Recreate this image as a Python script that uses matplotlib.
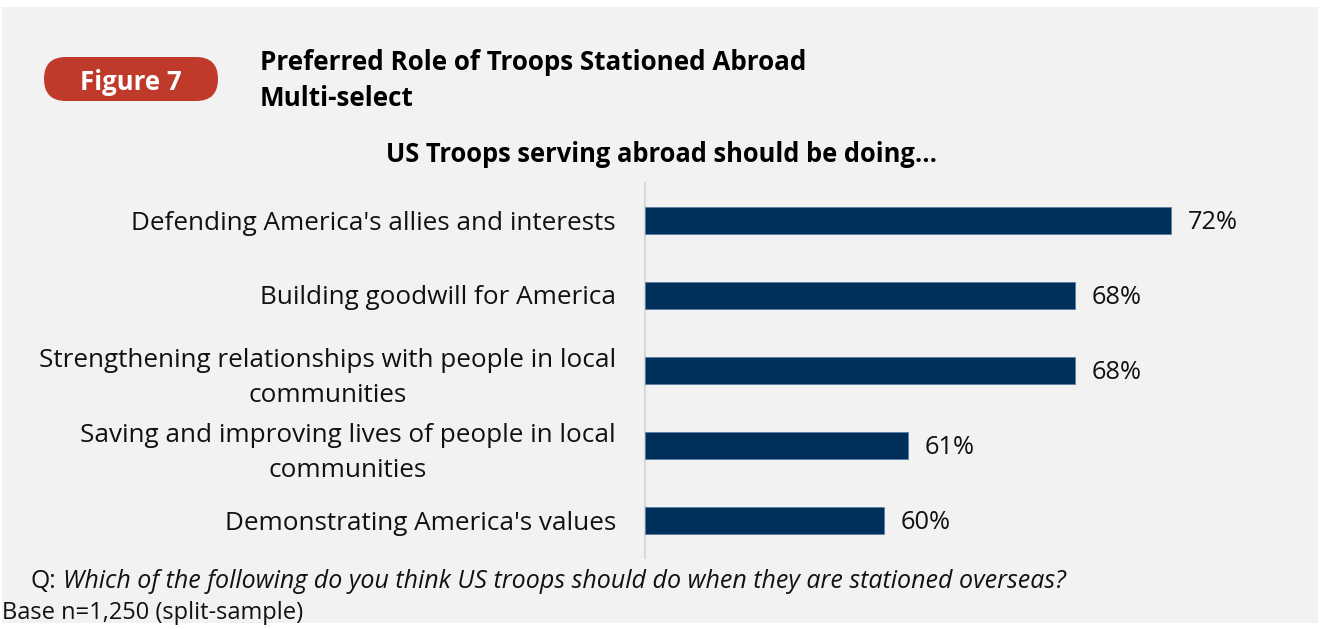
import matplotlib.pyplot as plt
from matplotlib.patches import FancyBboxPatch, Rectangle

categories = [
    "Defending America's allies and interests",
    "Building goodwill for America",
    "Strengthening relationships with people in local\ncommunities",
    "Saving and improving lives of people in local\ncommunities",
    "Demonstrating America's values",
]
values = [72, 68, 68, 61, 60]
value_labels = ["72%", "68%", "68%", "61%", "60%"]

FONT = ["Open Sans", "DejaVu Sans"]
plt.rcParams['font.family'] = FONT

W, H = 1320, 629
fig = plt.figure(figsize=(W / 100, H / 100), dpi=100)
fig.patch.set_facecolor("white")

# overlay axes in pixel coordinates
bg = fig.add_axes([0, 0, 1, 1], zorder=-1)
bg.set_xlim(0, W)
bg.set_ylim(H, 0)
bg.axis("off")
bg.add_patch(Rectangle((2, 7), 1316, 616, facecolor="#f2f2f2", edgecolor="none"))
bg.add_patch(FancyBboxPatch((44, 57), 174, 44, boxstyle="round,pad=0,rounding_size=22",
                            facecolor="#bf3a2b", edgecolor="none"))
bg.text(131, 82, "Figure 7", color="white", fontsize=18.5, fontweight="bold",
        ha="center", va="center")
bg.text(260, 62, "Preferred Role of Troops Stationed Abroad", fontsize=18.7,
        fontweight="bold", ha="left", va="center", color="black")
bg.text(260, 98, "Multi-select", fontsize=18.7,
        fontweight="bold", ha="left", va="center", color="black")
bg.text(662, 155, "US Troops serving abroad should be doing...", fontsize=18.4,
        fontweight="bold", ha="center", va="center", color="black")
bg.text(30, 582, "Q:", fontsize=17.8, ha="left", va="center", color="#111111")
bg.text(63, 582,
        "Which of the following do you think US troops should do when they are stationed overseas?",
        fontsize=18, style="italic", ha="left", va="center", color="#111111")
bg.text(2, 613, "Base n=1,250 (split-sample)", fontsize=17,
        ha="left", va="center", color="#111111")

x0 = 50
x1 = 77
left = 645 / W
ax_w = (x1 - x0) * 23.9 / W
bottom = (629 - 557.5) / H
height = (557.5 - 182.5) / H
ax = fig.add_axes([left, bottom, ax_w, height])
ax.set_facecolor("none")

ypos = list(range(len(categories)))
ax.barh(ypos, [v - x0 for v in values], left=x0, height=0.36, color="#00305a",
        edgecolor="#5a7fa6", linewidth=0.6, zorder=3)
for y, v, lab in zip(ypos, values, value_labels):
    ax.text(v + 0.7, y + 0.03, lab, va="center", ha="left", fontsize=18.3, color="#111111")

ax.set_xlim(x0, x1)
ax.set_ylim(len(categories) - 0.5, -0.5)
ax.set_yticks(ypos)
ax.set_yticklabels(categories, fontsize=18.8, color="#111111")
for t in ax.get_yticklabels():
    t.set_multialignment("center")
    t.set_linespacing(1.55)
ax.tick_params(axis="y", length=0, pad=21)
ax.set_xticks([])
for s in ["top", "right", "bottom"]:
    ax.spines[s].set_visible(False)
ax.spines["left"].set_color("#d9d9d9")
ax.spines["left"].set_linewidth(1.5)

fig.savefig("out.png", dpi=100, facecolor=fig.get_facecolor())
